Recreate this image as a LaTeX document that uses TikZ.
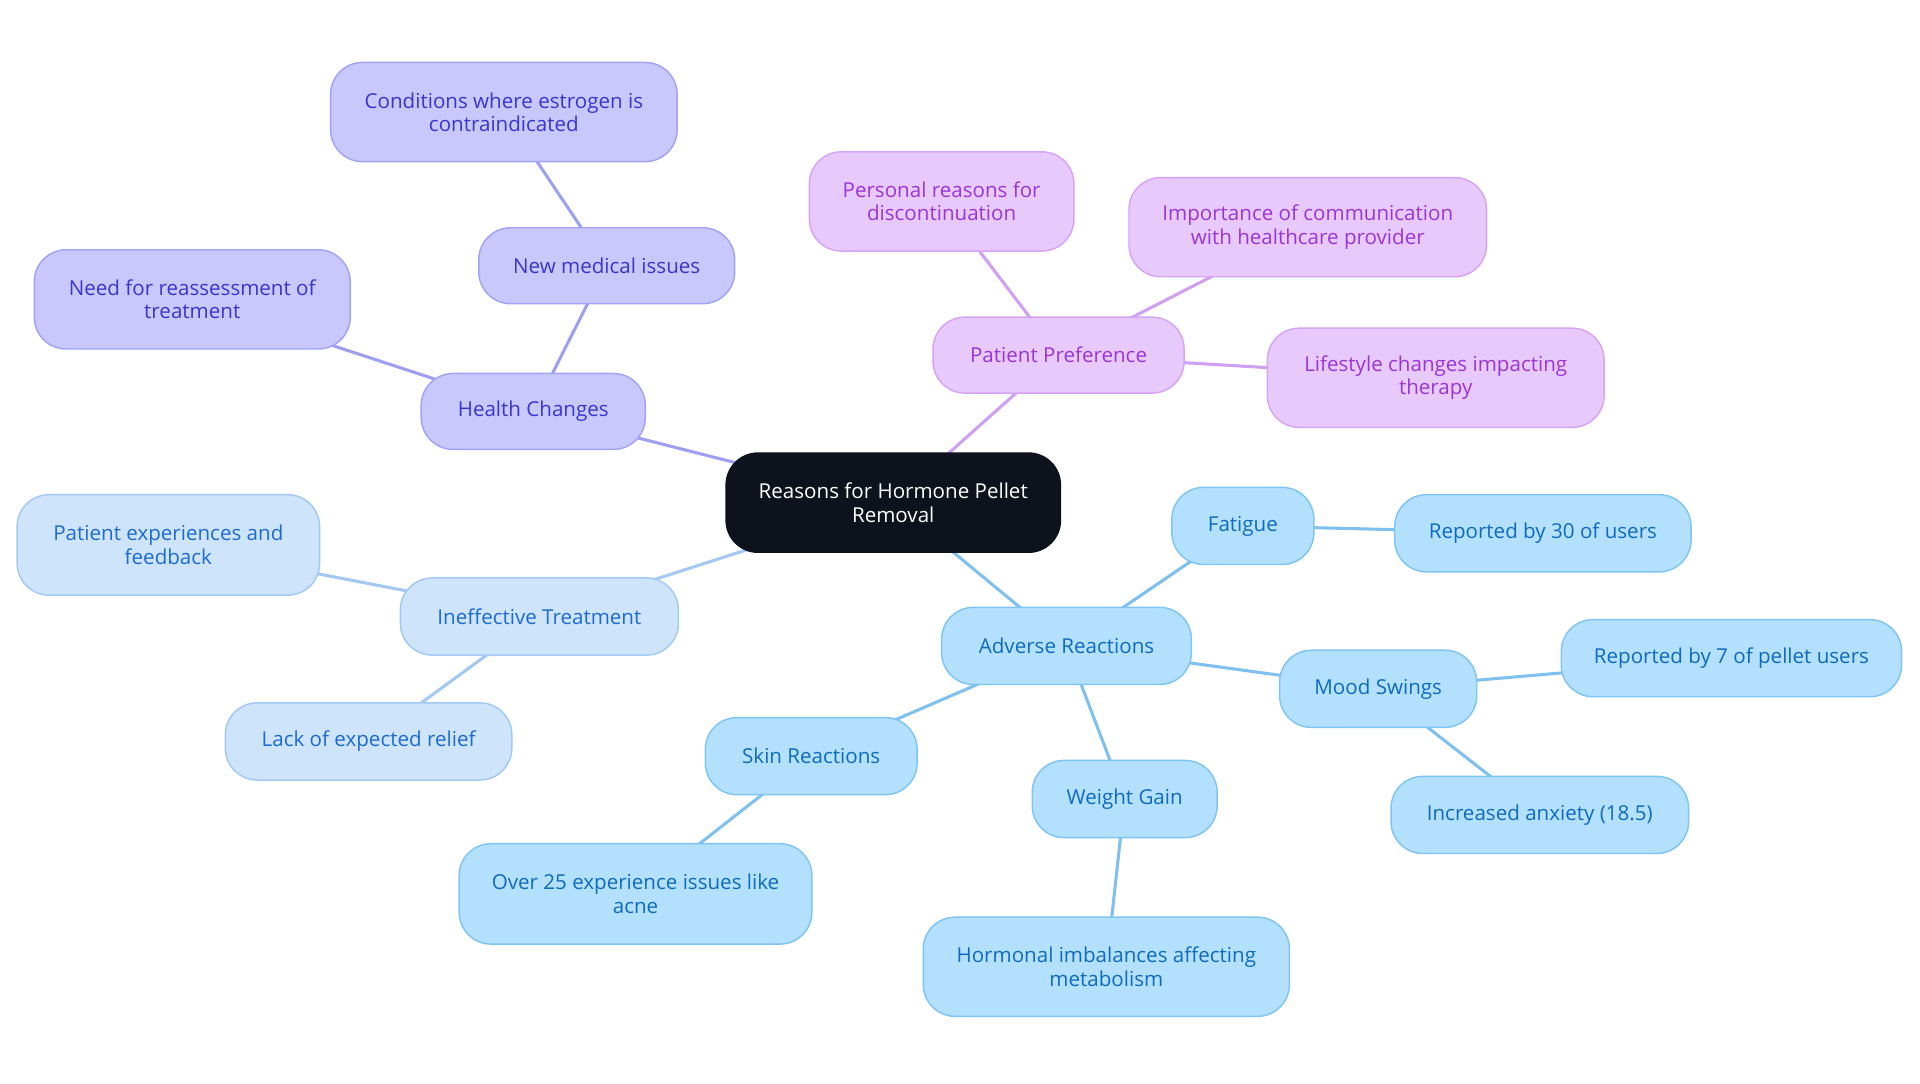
\documentclass[tikz,border=0pt]{standalone}
\usepackage{fontspec}
\newfontfamily\mf{Open Sans}
\usetikzlibrary{backgrounds}
\definecolor{rootfill}{HTML}{0D121C}
\definecolor{hcfill}{HTML}{C8C8FC}
\definecolor{hcdraw}{HTML}{A3A3F5}
\definecolor{hctext}{HTML}{3A35CF}
\definecolor{hcline}{HTML}{9F9FF2}
\definecolor{ppfill}{HTML}{E8C9FC}
\definecolor{ppdraw}{HTML}{D6A3F5}
\definecolor{pptext}{HTML}{9A35D6}
\definecolor{ppline}{HTML}{CFA0F2}
\definecolor{itfill}{HTML}{CDE4FB}
\definecolor{itdraw}{HTML}{A3C8F2}
\definecolor{ittext}{HTML}{1D6BD0}
\definecolor{itline}{HTML}{A3C8F2}
\definecolor{arfill}{HTML}{B3E0FD}
\definecolor{ardraw}{HTML}{7FC4F2}
\definecolor{artext}{HTML}{0F6BBF}
\definecolor{arline}{HTML}{7FC0EF}
\tikzset{
  box/.style={rectangle, rounded corners=26pt, line width=1.2pt, align=center, inner sep=0pt,
    font=\mf\fontsize{16.8}{19}\selectfont},
  rootbox/.style={box, fill=rootfill, draw=rootfill, text=white},
  hcbox/.style={box, fill=hcfill, draw=hcdraw, text=hctext},
  ppbox/.style={box, fill=ppfill, draw=ppdraw, text=pptext},
  itbox/.style={box, fill=itfill, draw=itdraw, text=ittext},
  arbox/.style={box, fill=arfill, draw=ardraw, text=artext},
  sz/.style 2 args={minimum width=#1pt, minimum height=#2pt},
  edge/.style={line width=2.5pt},
}
\begin{document}
\begin{tikzpicture}[x=1pt,y=-1pt]
\useasboundingbox (0,0) rectangle (1568,884.45);
% root
\node[rootbox, sz={273}{81}] (root) at (729.5,410.5) {Reasons for Hormone Pellet\\Removal};
% health changes
\node[hcbox, sz={183}{62}] (hc) at (435.5,336) {Health Changes};
\node[hcbox, sz={209}{62}] (nmi) at (495.5,217) {New medical issues};
\node[hcbox, sz={283}{81}] (cond) at (411.5,91.5) {Conditions where estrogen is\\contraindicated};
\node[hcbox, sz={258}{81}] (need) at (157,244.5) {Need for reassessment of\\treatment};
% patient preference
\node[ppbox, sz={205}{62}] (pp) at (864.5,290) {Patient Preference};
\node[ppbox, sz={216}{81}] (pers) at (769,164.5) {Personal reasons for\\discontinuation};
\node[ppbox, sz={292}{81}] (imp) at (1068,185.5) {Importance of communication\\with healthcare provider};
\node[ppbox, sz={275}{81}] (life) at (1172.5,308.5) {Lifestyle changes impacting\\therapy};
% ineffective treatment
\node[itbox, sz={227}{63}] (it) at (440.5,503.5) {Ineffective Treatment};
\node[itbox, sz={247}{82}] (pexp) at (137.5,445) {Patient experiences and\\feedback};
\node[itbox, sz={234}{63}] (lack) at (301,605.5) {Lack of expected relief};
% adverse reactions
\node[arbox, sz={204}{63}] (ar) at (871,527.5) {Adverse Reactions};
\node[arbox, sz={116}{63}] (fat) at (1015,429.5) {Fatigue};
\node[arbox, sz={242}{63}] (rep30) at (1260,435.5) {Reported by 30 of users};
\node[arbox, sz={161}{63}] (mood) at (1125.5,562.5) {Mood Swings};
\node[arbox, sz={278}{63}] (rep7) at (1414,537.5) {Reported by 7 of pellet users};
\node[arbox, sz={243}{63}] (anx) at (1257.5,665.5) {Increased anxiety (18.5)};
\node[arbox, sz={151}{63}] (wg) at (918.5,652.5) {Weight Gain};
\node[arbox, sz={299}{81}] (horm) at (903.5,789.5) {Hormonal imbalances affecting\\metabolism};
\node[arbox, sz={173}{63}] (skin) at (662.5,617.5) {Skin Reactions};
\node[arbox, sz={288}{82}] (acne) at (519,730) {Over 25 experience issues like\\acne};
\begin{scope}[on background layer]
\draw[edge, hcline] (root.center) -- (hc.center);
\draw[edge, hcline] (hc.center) -- (nmi.center);
\draw[edge, hcline] (nmi.center) -- (cond.center);
\draw[edge, hcline] (hc.center) -- (need.center);
\draw[edge, ppline] (root.center) -- (pp.center);
\draw[edge, ppline] (pp.center) -- (pers.center);
\draw[edge, ppline] (pp.center) -- (imp.center);
\draw[edge, ppline] (pp.center) -- (life.center);
\draw[edge, itline] (root.center) -- (it.center);
\draw[edge, itline] (it.center) -- (pexp.center);
\draw[edge, itline] (it.center) -- (lack.center);
\draw[edge, arline] (root.center) -- (ar.center);
\draw[edge, arline] (ar.center) -- (fat.center);
\draw[edge, arline] (fat.center) -- (rep30.center);
\draw[edge, arline] (ar.center) -- (mood.center);
\draw[edge, arline] (mood.center) -- (rep7.center);
\draw[edge, arline] (mood.center) -- (anx.center);
\draw[edge, arline] (ar.center) -- (wg.center);
\draw[edge, arline] (wg.center) -- (horm.center);
\draw[edge, arline] (ar.center) -- (skin.center);
\draw[edge, arline] (skin.center) -- (acne.center);
\end{scope}
\end{tikzpicture}
\end{document}
